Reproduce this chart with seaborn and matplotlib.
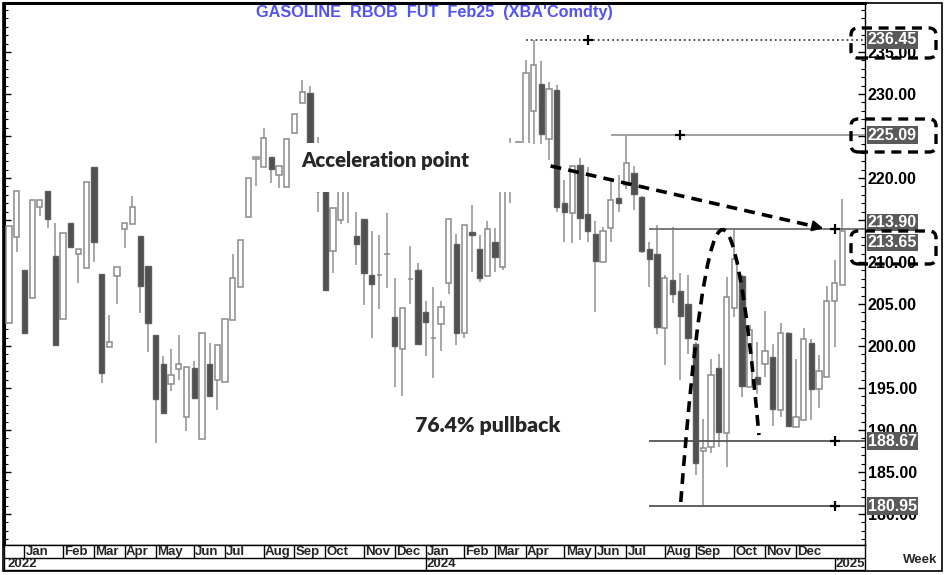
import numpy as np
import pandas as pd
import matplotlib
matplotlib.use("Agg")
import matplotlib.pyplot as plt
import seaborn as sns
from matplotlib.patches import Rectangle, FancyBboxPatch, PathPatch
from matplotlib.path import Path
from matplotlib.transforms import IdentityTransform
from matplotlib.ticker import MultipleLocator, FixedLocator, FormatStrFormatter

# weekly candles
opens = [202.7, 213.0, 209.1, 205.7, 216.5, 218.4, 210.75, 203.2, 214.7, 210.9,
         209.3, 221.3, 208.6, 199.9, 208.3, 213.9, 214.5, 213.1, 209.5, 201.35,
         197.9, 195.5, 197.3, 191.6, 197.4, 188.9, 197.8, 196.0, 195.7, 203.1,
         207.0, 215.4, 222.3, 221.35, 222.5, 220.35, 218.9, 225.35, 228.9, 230.1,
         221.0, 220.0, 211.35, 215.0, 222.0, 213.1, 215.1, 208.4, 208.5, 211.0,
         203.4, 199.6, 208.0, 209.0, 204.0, 201.0, 202.6, 207.5, 212.2, 201.6,
         213.6, 211.5, 208.3, 212.4, 209.45, 218.5, 222.0, 223.0, 228.0, 231.2,
         224.7, 230.5, 217.05, 215.8, 221.55, 215.7, 213.3, 209.95, 214.1, 217.6,
         219.2, 220.55, 217.7, 211.6, 211.0, 202.1, 207.9, 206.6, 205.0, 200.2,
         187.5, 188.0, 197.35, 189.6, 204.5, 208.3, 195.15, 196.35, 197.85, 198.65,
         192.4, 201.5, 190.3, 191.2, 200.4, 194.9, 196.3, 205.3, 207.3]
highs = [214.3, 218.5, 209.1, 217.4, 217.4, 218.4, 214.6, 213.5, 214.7, 211.5,
         219.5, 221.3, 208.6, 203.7, 209.4, 214.6, 217.8, 213.1, 209.5, 201.35,
         198.8, 199.6, 201.3, 197.5, 198.2, 201.5, 200.3, 200.1, 203.2, 211.0,
         212.6, 220.0, 222.5, 226.0, 222.5, 221.4, 224.7, 227.6, 231.7, 231.0,
         224.9, 221.0, 216.4, 220.5, 223.0, 216.0, 215.1, 213.7, 213.2, 215.8,
         208.1, 204.5, 211.9, 209.85, 205.35, 207.0, 205.35, 215.1, 213.3, 214.4,
         216.8, 213.2, 214.9, 214.1, 219.0, 224.8, 224.4, 234.1, 236.45, 233.9,
         231.4, 231.1, 219.75, 221.5, 222.35, 221.35, 214.9, 214.2, 219.7, 220.3,
         225.09, 221.4, 217.9, 212.4, 214.4, 208.45, 214.2, 208.65, 208.5, 200.5,
         191.3, 198.5, 199.1, 208.2, 213.9, 208.5, 202.5, 200.5, 204.2, 200.2,
         202.7, 201.7, 198.5, 202.1, 200.8, 198.9, 207.1, 210.2, 217.5]
lows = [202.7, 211.2, 201.6, 205.7, 215.5, 214.1, 200.1, 203.2, 211.75, 207.5,
        209.3, 210.0, 195.6, 199.9, 205.0, 211.7, 214.5, 203.9, 199.25, 188.5,
        192.0, 194.7, 195.9, 189.9, 193.8, 188.9, 194.05, 192.4, 195.7, 203.1,
        207.0, 215.4, 219.0, 221.35, 219.4, 218.85, 218.9, 225.35, 228.9, 220.5,
        216.0, 206.5, 208.7, 214.5, 214.6, 209.6, 204.9, 201.0, 204.4, 206.9,
        195.1, 194.05, 205.0, 200.2, 198.8, 196.2, 199.4, 206.2, 200.1, 200.9,
        208.85, 207.65, 208.3, 208.85, 209.0, 217.0, 219.0, 222.0, 224.0, 224.1,
        222.1, 216.0, 212.4, 212.3, 212.6, 212.35, 204.0, 209.95, 212.4, 216.0,
        218.65, 216.2, 211.1, 207.05, 201.4, 197.75, 205.1, 195.9, 199.1, 184.7,
        180.95, 187.3, 188.0, 185.6, 203.5, 193.9, 195.15, 194.3, 196.35, 190.5,
        191.6, 190.5, 190.3, 191.2, 191.2, 192.6, 196.3, 199.9, 207.3]
closes = [214.3, 218.5, 201.6, 217.4, 217.4, 215.1, 200.1, 213.5, 211.75, 211.5,
          219.5, 212.4, 196.75, 200.5, 209.4, 214.6, 216.5, 207.1, 202.7, 193.7,
          192.0, 196.55, 197.9, 197.5, 193.8, 201.5, 194.05, 200.1, 203.2, 208.1,
          212.6, 220.0, 222.5, 224.8, 221.1, 221.4, 224.7, 227.6, 230.2, 221.5,
          218.5, 206.7, 216.4, 219.5, 219.0, 212.1, 208.65, 207.35, 208.5, 211.0,
          200.0, 204.5, 208.0, 200.2, 202.9, 201.0, 204.7, 215.1, 201.6, 214.4,
          213.2, 208.05, 213.9, 210.55, 218.5, 222.0, 224.3, 232.45, 233.4, 225.2,
          230.6, 216.5, 215.9, 221.4, 215.2, 213.7, 210.15, 213.7, 217.4, 217.0,
          221.75, 218.1, 211.35, 210.3, 202.3, 208.05, 206.2, 203.6, 201.0, 186.1,
          187.9, 196.55, 189.8, 205.8, 210.4, 195.2, 201.9, 195.5, 199.45, 192.45,
          201.6, 190.5, 191.5, 200.8, 194.9, 197.0, 205.3, 207.5, 213.65]

month_names = ["Jan", "Feb", "Mar", "Apr", "May", "Jun",
               "Jul", "Aug", "Sep", "Oct", "Nov", "Dec"] * 2
month_starts = [2, 7, 11, 15, 19, 24, 28, 33, 37, 41, 46, 50,
                54, 59, 63, 67, 72, 76, 80, 85, 89, 94, 98, 102]
year_labels = ["2022", "2024", "2025"]
year_starts = [-0.4, 54, 107]

levels = [236.45, 225.09, 213.90, 188.67, 180.95]
level_from = [67, 78, 83, 83, 83]
level_cross = [75, 87, 107, 107, 107]
level_style = [":", "-", "-", "-", "-"]
level_color = ["#444444", "#9a9a9a", "#6e6e6e", "#555555", "#555555"]
label_shift = [0, 0, 5, 0, 0]   # points, to keep tags apart
last_close = 213.65
price_ticks = list(range(180, 240, 5))

W, H = 947, 575
X0, X1 = -0.65, 110.95
Y0, Y1 = 176.31, 240.83

sns.set_theme(style="white")
plt.rcParams['font.family'] = ['Liberation Sans', 'DejaVu Sans']

fig = plt.figure(figsize=(W / 100, H / 100), dpi=100)


def box(x0, y0, x1, y1):
    return [x0 / W, 1 - y1 / H, (x1 - x0) / W, (y1 - y0) / H]


ax = fig.add_axes(box(4, 3, 865, 545))

df = pd.DataFrame({"open": opens, "high": highs, "low": lows, "close": closes})
df["week"] = np.arange(len(df))
df["up"] = df["close"] >= df["open"]
df["bottom"] = df[["open", "close"]].min(axis=1)
df["size"] = (df["close"] - df["open"]).abs()

ax.vlines(df["week"], df["low"], df["high"], color="#8f8f8f", lw=1.1, zorder=2)
up = df[df["up"]]
dn = df[~df["up"]]
ax.bar(up["week"], up["size"], bottom=up["bottom"], width=0.68,
       color="white", edgecolor="#8a8a8a", lw=1.1, zorder=3)
ax.bar(dn["week"], dn["size"], bottom=dn["bottom"], width=0.68,
       color="#505050", edgecolor="#5e5e5e", lw=1.0, zorder=3)

# support / resistance levels
for lv, x0, ls, c in zip(levels, level_from, level_style, level_color):
    ax.hlines(lv, x0, X1, color=c, lw=1.3, linestyles=ls, zorder=4)
sns.scatterplot(x=level_cross, y=levels, marker="+", color="black", s=45,
                linewidth=1.6, ax=ax, zorder=6, legend=False)

# white text box hiding part of the candles
ax.add_patch(Rectangle((37.4, 218.33), 30.2, 5.85, fc="white", ec="none", zorder=5))
ax.text(37.9, 222.1, "Acceleration point", fontsize=14.6, fontweight="heavy",
        family=["Lato", "DejaVu Sans"], ha="left", va="center", zorder=6)
ax.text(52.6, 190.5, "76.4% pullback", fontsize=15.3, fontweight="heavy",
        family=["Lato", "DejaVu Sans"], ha="left", va="center", zorder=6)

# dashed trend arrow
ax.plot([70.2, 105.0], [221.43, 214.11], color="black", lw=2.6,
        ls=(0, (3, 2)), zorder=7)
ax.annotate("", xy=(105.9, 213.93), xytext=(104.6, 214.2),
            arrowprops=dict(arrowstyle="-|>", color="black", lw=1.5,
                            mutation_scale=16), zorder=7)

# dashed arch
arch = Path([(87.07, 181.43), (92.14, 242.02), (97.2, 189.4)],
            [Path.MOVETO, Path.CURVE3, Path.CURVE3])
ax.add_patch(PathPatch(arch, fill=False, ec="black", lw=2.6,
                       ls=(0, (3, 2)), zorder=7))

ax.set_xlim(X0, X1)
ax.set_ylim(Y0, Y1)
ax.set_xticks([])
ax.yaxis.set_major_locator(FixedLocator(price_ticks))
ax.yaxis.set_minor_locator(MultipleLocator(1))
ax.yaxis.set_major_formatter(FormatStrFormatter("%.2f"))
ax.tick_params(axis="y", which="both", direction="in", left=True, right=True,
               labelleft=False, labelright=True, colors="black", pad=2)
ax.tick_params(axis="y", which="major", length=5, width=1)
ax.tick_params(axis="y", which="minor", length=3, width=0.8)
for t in ax.get_yticklabels():
    t.set_fontsize(11.5)
    t.set_fontweight("bold")
for side, lw in [("left", 2.2), ("top", 2.2), ("right", 1.0), ("bottom", 1.0)]:
    ax.spines[side].set_color("black")
    ax.spines[side].set_linewidth(lw)

tag = dict(boxstyle="square,pad=0.08", fc="#5a5a5a", ec="none")
for lv, dy in zip(levels, label_shift):
    ax.annotate(f"{lv:.2f}", xy=(1, lv), xycoords=("axes fraction", "data"),
                xytext=(2, dy), textcoords="offset points", ha="left", va="center",
                color="white", fontsize=11.5, fontweight="bold", bbox=tag,
                annotation_clip=False, zorder=8)
ax.annotate(f"{last_close:.2f}", xy=(1, last_close), xycoords=("axes fraction", "data"),
            xytext=(2, -8), textcoords="offset points", ha="left", va="center",
            color="white", fontsize=11.5, fontweight="bold", bbox=tag,
            annotation_clip=False, zorder=9)

# dashed rounded boxes around highlighted prices
for y0, y1 in [(28, 58), (119, 152), (231, 264)]:
    fig.add_artist(FancyBboxPatch((851, H - y1), 85, y1 - y0,
                                  boxstyle="round,pad=0,rounding_size=7",
                                  transform=IdentityTransform(), fill=False,
                                  ec="black", lw=2.4, ls=(0, (3, 2))))

fig.text(434.5 / W, 1 - 13 / H, "GASOLINE  RBOB  FUT  Feb25  (XBA'Comdty)",
         color="#5252f5", fontsize=11.7, fontweight="bold", ha="center", va="center")

# date band below the chart
bx = fig.add_axes(box(4, 545, 865, 570))
bx.set_xlim(X0, X1)
bx.set_ylim(0, 2)
bx.set_xticks([])
bx.set_yticks([])
for s in bx.spines.values():
    s.set_color("black")
    s.set_linewidth(1.0)
bx.axhline(1, color="black", lw=1.0)
for name, m in zip(month_names, month_starts):
    bx.vlines(m, 1, 2, color="black", lw=1.0)
    bx.text(m + 0.15, 1.45, name, fontsize=9.5, fontweight="bold",
            ha="left", va="center")
for name, yr in zip(year_labels, year_starts):
    if yr > 0:
        bx.vlines(yr, 0, 1, color="black", lw=1.0)
    bx.text(yr + 0.15, 0.45, name, fontsize=9.5, fontweight="bold",
            ha="left", va="center")

fig.text(920 / W, 1 - 560 / H, "Week", fontsize=9.5, fontweight="bold",
         ha="center", va="center")
fig.add_artist(Rectangle((3, H - 571), 939, 568, transform=IdentityTransform(),
                         fill=False, ec="black", lw=1.2))

fig.savefig("out.png", dpi=100)
